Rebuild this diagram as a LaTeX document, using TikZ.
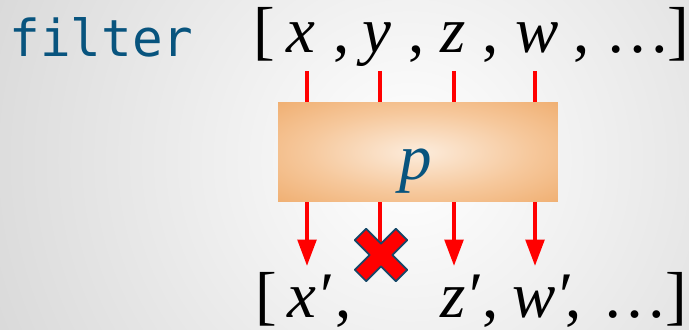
\documentclass[tikz,border=0pt]{standalone}
\usepackage{fontspec}
\setmainfont{Liberation Serif}
\newfontfamily\listfont{Liberation Serif}
\newfontfamily\codefont{DejaVu Sans Mono}
\usetikzlibrary{arrows.meta}

\definecolor{inkblue}{RGB}{8,84,126}
\definecolor{boxlight}{RGB}{252,236,220}
\definecolor{boxmid}{RGB}{246,200,156}
\definecolor{boxdark}{RGB}{238,168,102}
\definecolor{crossedge}{RGB}{22,72,104}
\pgfdeclareradialshading{boxglow}{\pgfpointorigin}{color(0bp)=(boxlight); color(20bp)=(boxmid); color(40bp)=(boxdark); color(100bp)=(boxdark)}

\tikzset{
  item/.style={anchor=base, inner sep=0pt, font=\listfont\fontsize{37}{40}\selectfont},
  var/.style={item, font=\listfont\fontsize{37}{40}\selectfont\itshape},
  codeword/.style={anchor=base west, inner sep=0pt, text=inkblue, font=\codefont\fontsize{29}{32}\selectfont},
  filterbox/.style={shading=boxglow, minimum width=5.6cm, minimum height=2cm, inner sep=0pt},
  feed/.style={draw=red, line width=2.3pt},
  flow/.style={feed, -{Triangle[width=10.5pt,length=15pt]}},
  crossmark/.style={fill=red, draw=crossedge, line width=1pt, line join=round}
}

\begin{document}
\begin{tikzpicture}[x=0.02cm, y=-0.02cm]

\useasboundingbox (0,0) rectangle (689,330);
\begin{scope}
\clip (0,0) rectangle (689,330);
\shade[inner color=white, outer color=black!23] (410,160) circle [radius=14cm];
\end{scope}

\coordinate (inX) at (307,71);
\coordinate (inY) at (380,71);
\coordinate (inZ) at (454,71);
\coordinate (inW) at (535,71);
\coordinate (outX) at (307,266);
\coordinate (outY) at (380,246);
\coordinate (outZ) at (454,266);
\coordinate (outW) at (535,266);

\node[codeword] (filter) at (9,57) {filter};

\node[item] (openA) at (264,53) {[};
\node[var] (xA) at (301,53) {x};
\node[item] (c1A) at (342,53) {,};
\node[var] (yA) at (377,53) {y};
\node[item] (c2A) at (417,53) {,};
\node[var] (zA) at (453,53) {z};
\node[item] (c3A) at (491,53) {,};
\node[var] (wA) at (537,53) {w};
\node[item] (c4A) at (582,53) {,};
\node[item] (dotsA) at (638,53) {\ldots};
\node[item] (closeA) at (678,53) {]};

\node[filterbox] (box) at (418,152) {};
\node[var, text=inkblue] (pname) at (416,180) {p};

\draw[feed] (inX) -- (inX |- box.north);
\draw[feed] (inY) -- (inY |- box.north);
\draw[feed] (inZ) -- (inZ |- box.north);
\draw[feed] (inW) -- (inW |- box.north);

\draw[flow] (inX |- box.south) -- (outX);
\draw[feed] (inY |- box.south) -- (outY);
\draw[flow] (inZ |- box.south) -- (outZ);
\draw[flow] (inW |- box.south) -- (outW);

\draw[crossmark, shift={(381,255)}, rotate=45]
  (8,8) -- (8,29) -- (-8,29) -- (-8,8) -- (-29,8) -- (-29,-8) -- (-8,-8)
  -- (-8,-29) -- (8,-29) -- (8,-8) -- (29,-8) -- (29,8) -- cycle;

\node[item] (openB) at (266,318) {[};
\node[var] (xB) at (309,318) {x′};
\node[item] (c1B) at (344,318) {,};
\node[var] (zB) at (460,318) {z′};
\node[item] (c3B) at (491,318) {,};
\node[var] (wB) at (541,318) {w′};
\node[item] (c4B) at (574,318) {,};
\node[item] (dotsB) at (635,318) {\ldots};
\node[item] (closeB) at (676,318) {]};

\end{tikzpicture}
\end{document}
